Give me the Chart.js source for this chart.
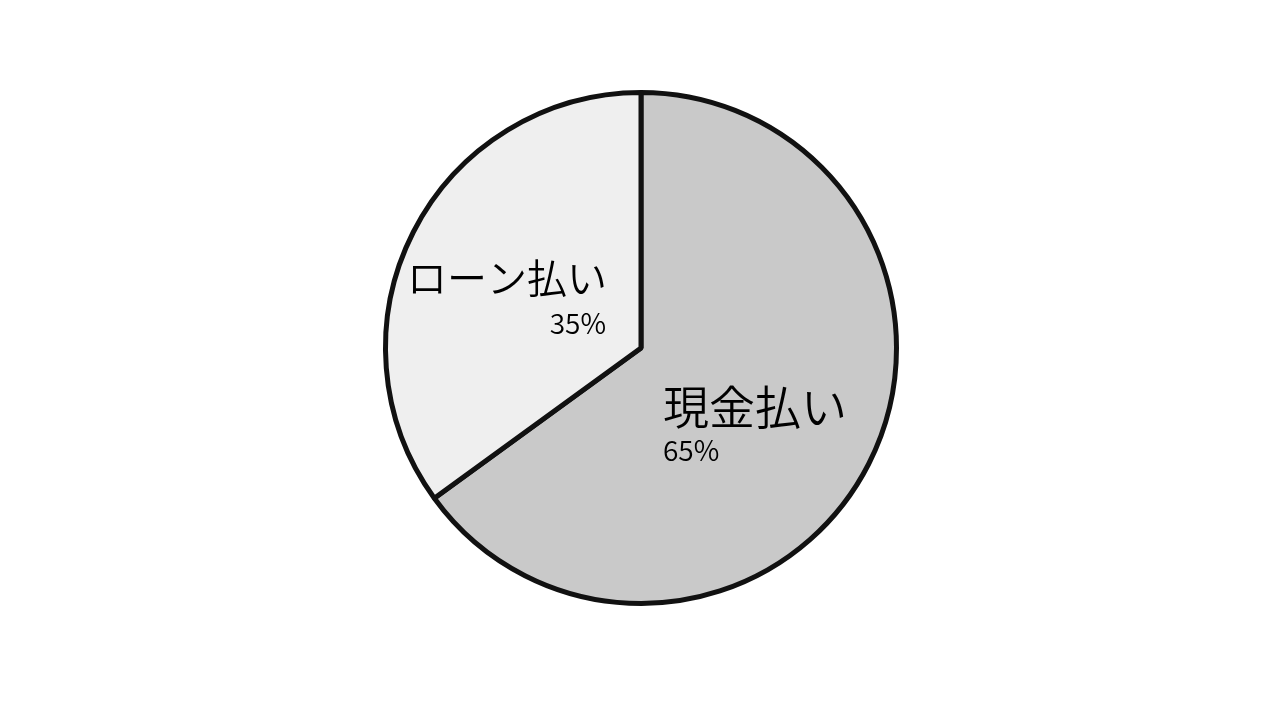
<!DOCTYPE html>
<html>
<head>
<meta charset="utf-8">
<script src="https://cdn.jsdelivr.net/npm/chart.js@4/dist/chart.umd.min.js"></script>
<style>
  html, body { margin: 0; padding: 0; background: #fff; }
  #wrap { width: 1280px; height: 720px; }
</style>
</head>
<body>
<div id="wrap"><canvas id="pie" width="1280" height="720"></canvas></div>
<script>
// --- datos ---
const labels = ['現金払い', 'ローン払い'];
const values = [65, 35];
const pctLabels = ['65%', '35%'];
const sliceColors = ['#c9c9c9', '#efefef'];

const FONT = '"Noto Sans CJK JP", "Noto Sans", sans-serif';

// Etiquetas dentro de cada porción (desplazamiento desde el centro del pastel)
const labelPlacement = [
  { align: 'left',  name: [22, 59],   pct: [22, 102], nameSize: 46 },
  { align: 'right', name: [-34, -70], pct: [-35, -25], nameSize: 40 }
];

const sliceLabels = {
  id: 'sliceLabels',
  afterDatasetsDraw(chart) {
    const ctx = chart.ctx;
    const arcs = chart.getDatasetMeta(0).data;
    ctx.save();
    ctx.fillStyle = '#000';
    ctx.textBaseline = 'middle';
    arcs.forEach((arc, i) => {
      const p = labelPlacement[i];
      ctx.textAlign = p.align;
      ctx.font = `350 ${p.nameSize}px ${FONT}`;
      ctx.fillText(labels[i], arc.x + p.name[0], arc.y + p.name[1]);
      ctx.font = `350 28px ${FONT}`;
      ctx.fillText(pctLabels[i], arc.x + p.pct[0], arc.y + p.pct[1]);
    });
    ctx.restore();
  }
};

new Chart(document.getElementById('pie').getContext('2d'), {
  type: 'pie',
  data: {
    labels: labels,
    datasets: [{
      data: values,
      backgroundColor: sliceColors,
      borderColor: '#111',
      borderWidth: 5
    }]
  },
  options: {
    responsive: false,
    animation: false,
    layout: { padding: { top: 90, bottom: 114, left: 2, right: 0 } },
    plugins: {
      legend: { display: false },
      tooltip: { enabled: false }
    }
  },
  plugins: [sliceLabels]
});
</script>
</body>
</html>
